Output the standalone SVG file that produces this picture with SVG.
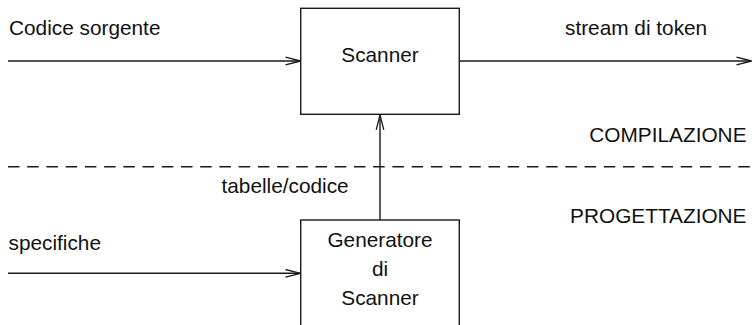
<svg xmlns="http://www.w3.org/2000/svg" width="752" height="325" viewBox="0 0 752 325">
  <defs>
    <style>
      .box { fill: #ffffff; stroke: #1a1a1a; stroke-width: 1.4; }
      .wire { fill: none; stroke: #1a1a1a; stroke-width: 1.4; marker-end: url(#chevron); }
      .divider { fill: none; stroke: #1a1a1a; stroke-width: 1.4; stroke-dasharray: 11.5 7.72; }
      text { font-family: "Liberation Sans", Arial, Helvetica, sans-serif; font-size: 20.8px; fill: #111111; }
      .mid { text-anchor: middle; }
      .end { text-anchor: end; }
    </style>
    <!-- open arrowhead: two thin strokes meeting at the tip -->
    <marker id="chevron" markerUnits="userSpaceOnUse" markerWidth="18" markerHeight="12"
            refX="15" refY="6" orient="auto" overflow="visible">
      <polyline points="0,2.2 15,6 0,9.8" fill="none" stroke="#1a1a1a" stroke-width="1.3"/>
    </marker>
  </defs>

  <rect width="752" height="325" fill="#ffffff"/>

  <!-- phase separator -->
  <line class="divider" x1="8" y1="166.7" x2="750" y2="166.7"/>
  <text class="end" x="746.5" y="141.5">COMPILAZIONE</text>
  <text class="end" x="746.5" y="223">PROGETTAZIONE</text>

  <g id="connectors">
    <line class="wire" x1="8" y1="61" x2="300.5" y2="61"/>
    <line class="wire" x1="459.5" y1="61" x2="751.5" y2="61"/>
    <line class="wire" x1="8" y1="273.3" x2="300.5" y2="273.3"/>
    <line class="wire" x1="380" y1="220" x2="380" y2="114.8"/>
    <text x="9" y="35">Codice sorgente</text>
    <text x="565" y="35">stream di token</text>
    <text x="221.5" y="193.3">tabelle/codice</text>
    <text x="8.5" y="250">specifiche</text>
  </g>

  <g id="scanner">
    <rect class="box" x="300.7" y="8.3" width="158.6" height="106"/>
    <text class="mid" x="380" y="62">Scanner</text>
  </g>

  <g id="generatore">
    <rect class="box" x="300.7" y="220" width="158.6" height="120"/>
    <text class="mid" x="380" y="246.7">Generatore</text>
    <text class="mid" x="380" y="276">di</text>
    <text class="mid" x="380" y="305">Scanner</text>
  </g>
</svg>
